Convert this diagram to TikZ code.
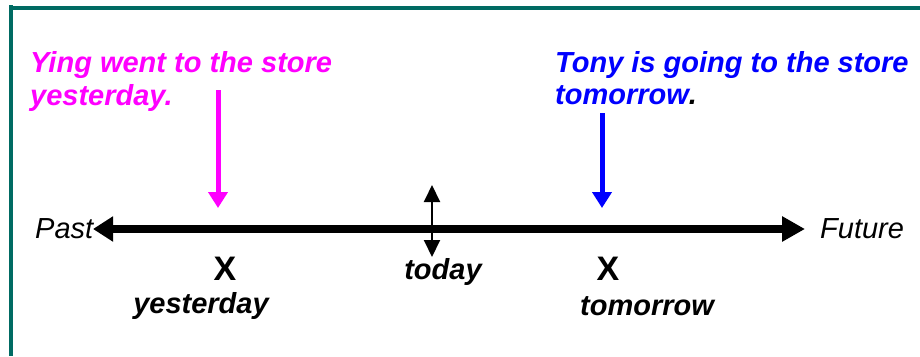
\documentclass[tikz,border=0pt]{standalone}
\usepackage{fontspec}
\setmainfont{Liberation Sans}
\usetikzlibrary{arrows.meta}
\definecolor{frameteal}{RGB}{0,107,99}
\definecolor{magentatxt}{RGB}{255,0,255}
\definecolor{bluetxt}{RGB}{0,0,255}
\tikzset{
  txt/.style={inner sep=0pt, font=\fontsize{29}{33}\selectfont},
  bitxt/.style={txt, font=\fontsize{29}{33}\selectfont\bfseries\itshape},
  itxt/.style={txt, font=\fontsize{29}{33}\selectfont\itshape},
  xmark/.style={inner sep=0pt, font=\fontsize{34}{38}\selectfont\bfseries},
  pointer/.style={line width=5pt, -{Triangle[length=16pt,width=19pt]}},
  timeline/.style={line width=8pt, {Triangle[length=20pt,width=24pt]}-{Triangle[length=23pt,width=24pt]}},
  todayarrow/.style={line width=2pt, {Triangle[length=17pt,width=16pt]}-{Triangle[length=17pt,width=16pt]}},
}
\begin{document}
\begin{tikzpicture}[x=1pt,y=-1pt]
\useasboundingbox (0,0) rectangle (920,356);
\fill[white] (0,0) rectangle (920,356);
% frame
\fill[frameteal] (9,6) rectangle (920,10);
\fill[frameteal] (9,5) rectangle (13,356);
% texts
\node[bitxt, text=magentatxt, anchor=base west] (ying1) at (30,72) {Ying went to the store};
\node[bitxt, text=magentatxt, anchor=base west] (ying2) at (30,105) {yesterday.};
\node[bitxt, text=bluetxt, anchor=base west] (tony1) at (555,72) {Tony is going to the store};
\node[bitxt, anchor=base west] (tony2) at (555,104) {\textcolor{bluetxt}{tomorrow}.};
% pointers
\coordinate (ytop) at (218,90);
\coordinate (ytip) at (218,208);
\coordinate (ttop) at (602,113);
\coordinate (ttip) at (602,208);
\draw[pointer, magentatxt] (ytop) -- (ytip);
\draw[pointer, bluetxt] (ttop) -- (ttip);
% timeline
\coordinate (pastend) at (93,229);
\coordinate (futend) at (805,229);
\draw[timeline] (pastend) -- (futend);
\node[itxt, anchor=base west] (past) at (35,238) {Past};
\node[itxt, anchor=base west] (future) at (820,238) {Future};
% today arrow
\coordinate (todtop) at (432,185);
\coordinate (todbot) at (432,257);
\draw[todayarrow] (todtop) -- (todbot);
% marks and labels
\node[xmark, anchor=base] (xy) at (225,280) {X};
\node[xmark, anchor=base] (xt) at (608,280) {X};
\node[bitxt, anchor=base] (yest) at (201,313) {yesterday};
\node[bitxt, anchor=base] (today) at (443,279) {today};
\node[bitxt, anchor=base] (tomo) at (647,315) {tomorrow};
\end{tikzpicture}
\end{document}
